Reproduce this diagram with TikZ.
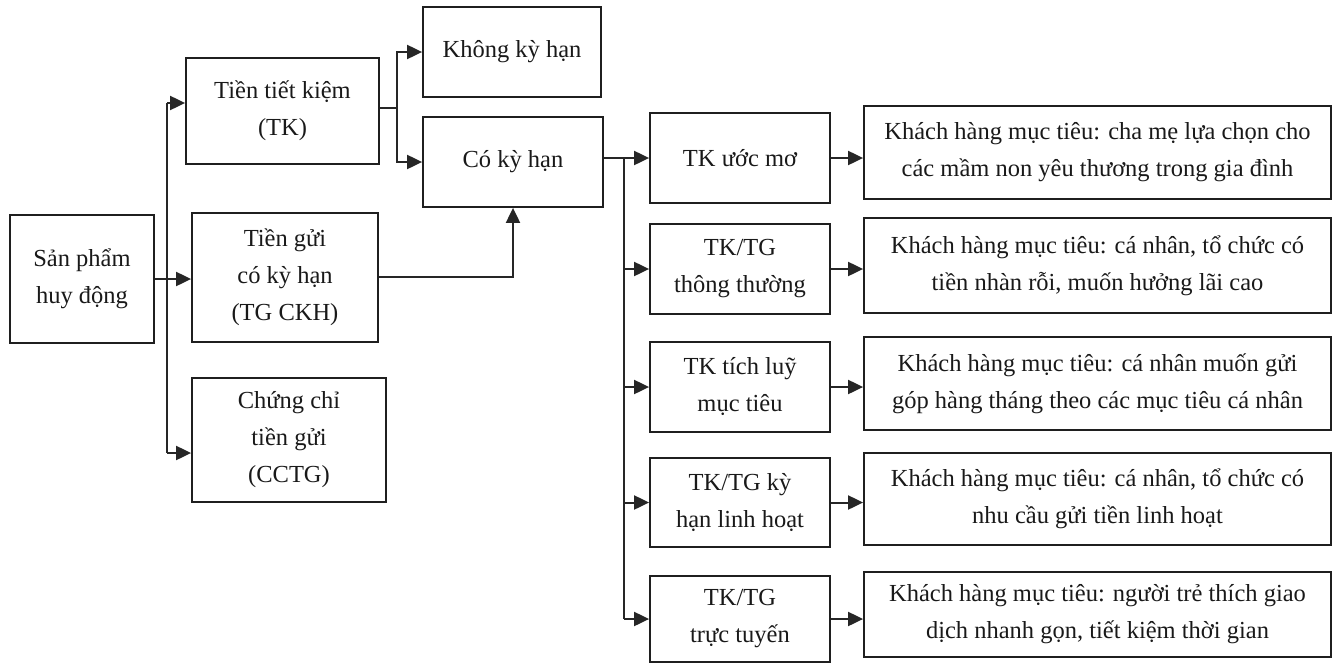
\documentclass[tikz,border=0pt]{standalone}
\usepackage{fontspec}
\setmainfont{Liberation Serif}
\usetikzlibrary{arrows.meta}
\begin{document}
\begin{tikzpicture}[x=1pt,y=-1pt,
  box/.style={draw=black!88, line width=1.8pt, align=center, inner sep=0pt,
    font=\fontsize{24.5}{37}\selectfont, text=black!90},
  conn/.style={draw=black!85, line width=2pt},
  arr/.style={conn, -{Triangle[length=15pt,width=14pt]}}]
\useasboundingbox (0,0) rectangle (1341,664);
% left part
\node[box, minimum width=144pt, minimum height=128pt] (sp) at (82,279) {Sản phẩm\\huy động};
\node[box, minimum width=193pt, minimum height=106pt] (tk) at (282.5,111) {Tiền tiết kiệm\\(TK)};
\node[box, minimum width=186pt, minimum height=129pt] (tg) at (285,277.5) {Tiền gửi\\có kỳ hạn\\(TG CKH)};
\node[box, minimum width=194pt, minimum height=124pt] (cc) at (289,440) {Chứng chỉ\\tiền gửi\\(CCTG)};
\node[box, minimum width=178pt, minimum height=90pt] (kk) at (512,52) {Không kỳ hạn};
\node[box, minimum width=180pt, minimum height=90pt] (ck) at (513,162) {Có kỳ hạn};
% middle column
\node[box, minimum width=180pt, minimum height=90pt] (m1) at (740,158) {TK ước mơ};
\node[box, minimum width=180pt, minimum height=90pt] (m2) at (740,269) {TK/TG\\thông thường};
\node[box, minimum width=180pt, minimum height=90pt] (m3) at (740,387) {TK tích luỹ\\mục tiêu};
\node[box, minimum width=180pt, minimum height=89pt] (m4) at (740,502.5) {TK/TG kỳ\\hạn linh hoạt};
\node[box, minimum width=180pt, minimum height=86pt] (m5) at (740,619) {TK/TG\\trực tuyến};
% right column
\node[box, minimum width=467pt, minimum height=93pt] (k1) at (1097.5,152.5) {Khách hàng mục tiêu: cha mẹ lựa chọn cho\\các mầm non yêu thương trong gia đình};
\node[box, minimum width=467pt, minimum height=95pt] (k2) at (1097.5,265.5) {Khách hàng mục tiêu: cá nhân, tổ chức có\\tiền nhàn rỗi, muốn hưởng lãi cao};
\node[box, minimum width=467pt, minimum height=93pt] (k3) at (1097.5,383.5) {Khách hàng mục tiêu: cá nhân muốn gửi\\góp hàng tháng theo các mục tiêu cá nhân};
\node[box, minimum width=467pt, minimum height=92pt] (k4) at (1097.5,499) {Khách hàng mục tiêu: cá nhân, tổ chức có\\nhu cầu gửi tiền linh hoạt};
\node[box, minimum width=467pt, minimum height=85pt] (k5) at (1097.5,614.5) {Khách hàng mục tiêu: người trẻ thích giao\\dịch nhanh gọn, tiết kiệm thời gian};
% connectors, left
\coordinate (t1) at (167,103);
\coordinate (t3) at (167,453);
\draw[conn] (t1) -- (t3);
\draw[arr] (t1) -- (t1 -| tk.west);
\draw[arr] (sp.east) -- (sp.east -| tg.west);
\draw[arr] (t3) -- (t3 -| cc.west);
\coordinate (b) at (397,108);
\draw[conn] (tk.east |- b) -- (b);
\draw[arr] (b) |- (kk.west);
\draw[arr] (b) |- (ck.west);
\coordinate (g) at (0,277);
\draw[arr] (tg.east |- g) -| (ck.south);
% connectors, right
\coordinate (v) at (624,158);
\draw[arr] (ck.east |- m1.west) -- (m1.west);
\draw[conn] (v) -- (v |- m5.west);
\draw[arr] (v |- m2.west) -- (m2.west);
\draw[arr] (v |- m3.west) -- (m3.west);
\draw[arr] (v |- m4.west) -- (m4.west);
\draw[arr] (v |- m5.west) -- (m5.west);
\draw[arr] (m1.east) -- (m1.east -| k1.west);
\draw[arr] (m2.east) -- (m2.east -| k2.west);
\draw[arr] (m3.east) -- (m3.east -| k3.west);
\draw[arr] (m4.east) -- (m4.east -| k4.west);
\draw[arr] (m5.east) -- (m5.east -| k5.west);
\end{tikzpicture}
\end{document}
